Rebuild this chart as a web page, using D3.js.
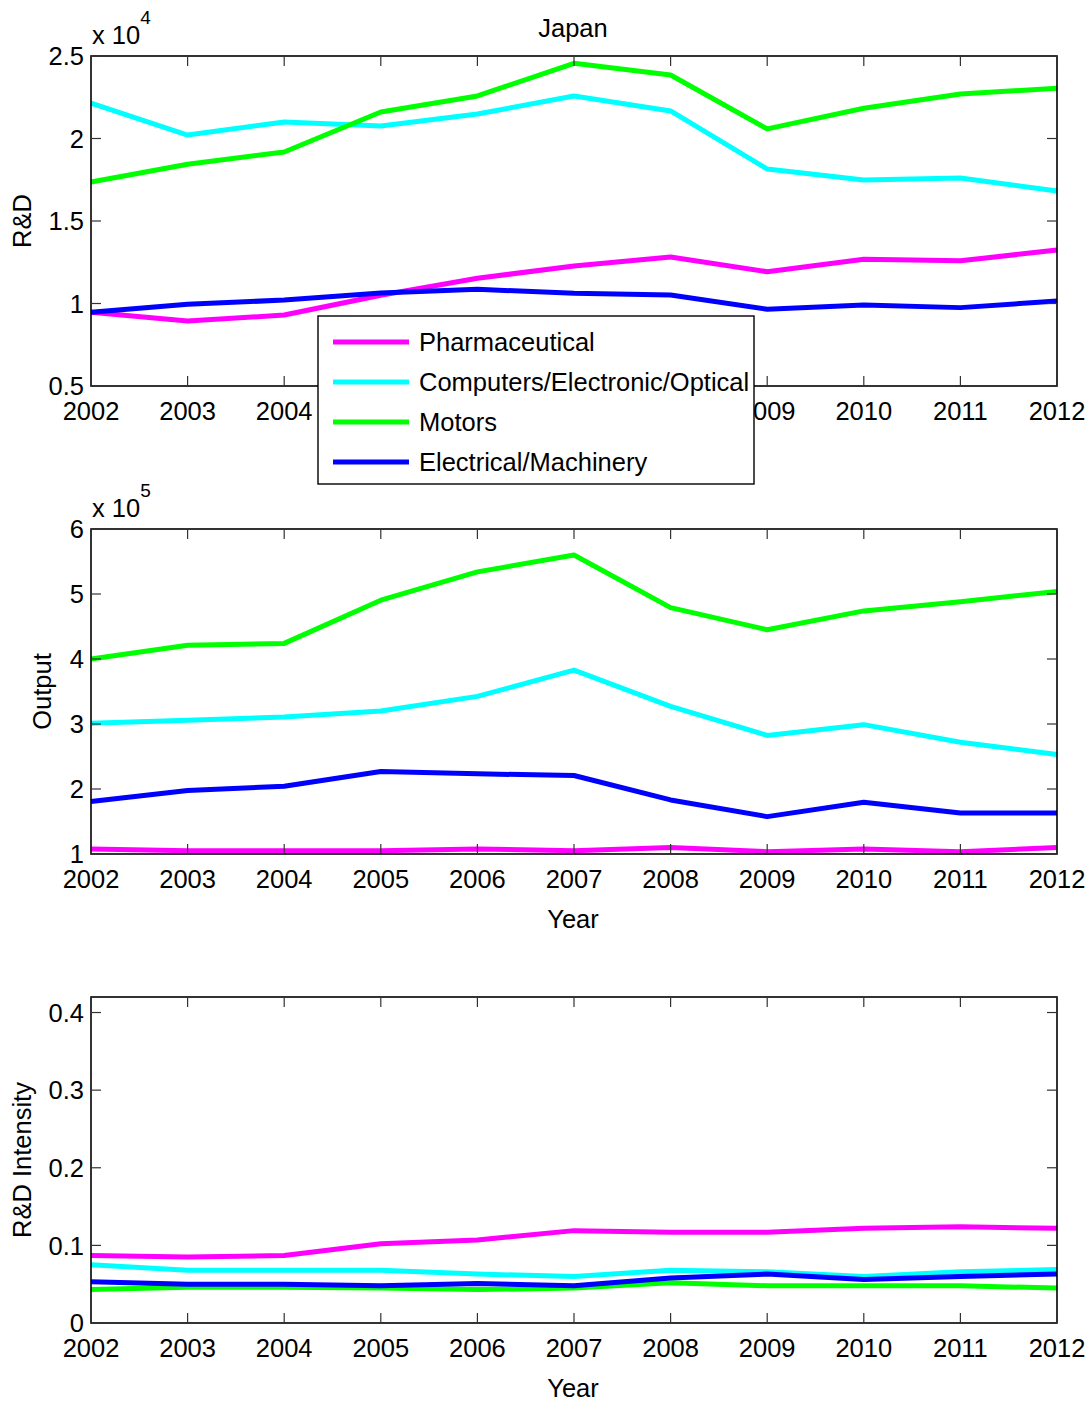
<!DOCTYPE html>
<html><head><meta charset="utf-8">
<script src="https://cdn.jsdelivr.net/npm/d3@7"></script>
<style>
html,body{margin:0;padding:0;background:#fff;}
svg text{font-family:"Liberation Sans",Arial,sans-serif;fill:#000;}
</style></head>
<body>
<svg id="c" width="1092" height="1403"></svg>
<script>
// ---- data ----
const years = [2002,2003,2004,2005,2006,2007,2008,2009,2010,2011,2012];
const seriesNames = ["Pharmaceutical","Computers/Electronic/Optical","Motors","Electrical/Machinery"];
const seriesColors = ["#ff00ff","#00ffff","#00ff00","#0000ff"];

// R&D (raw units)
const rdPharma    = [9470, 8940, 9300, 10500, 11530, 12270, 12820, 11930, 12680, 12590, 13240];
const rdComputers = [22150,20210,21000,20760,21480,22580,21670,18150,17480,17600,16820];
const rdMotors    = [17360,18440,19180,21610,22580,24560,23850,20580,21830,22700,23040];
const rdElectrical= [9470, 9950, 10210,10640,10860,10620,10520,9650, 9910, 9750, 10150];

// Output (raw units)
const outPharma    = [107700,105000,105000,105000,107700,105000,110000,103600,107700,103600,110000];
const outComputers = [301000,305600,310700,320000,342500,383000,327000,282400,299000,272000,253000];
const outMotors    = [400000,421000,424000,490500,534000,560000,479000,445000,474000,488000,504000];
const outElectrical= [180700,197600,204300,226900,223300,220800,183200,157500,179600,163200,163200];

// R&D intensity
const intPharma    = [0.087,0.085,0.087,0.102,0.107,0.119,0.117,0.117,0.122,0.124,0.122];
const intComputers = [0.075,0.068,0.068,0.068,0.063,0.060,0.068,0.066,0.060,0.066,0.069];
const intMotors    = [0.043,0.046,0.046,0.045,0.043,0.045,0.052,0.048,0.048,0.048,0.045];
const intElectrical= [0.053,0.050,0.050,0.048,0.051,0.048,0.058,0.063,0.056,0.060,0.063];

const rdTicks = [5000,10000,15000,20000,25000];
const outTicks = [100000,200000,300000,400000,500000,600000];
const intTicks = [0,0.1,0.2,0.3,0.4];

const panels = [
  {top:56, bottom:386, domain:[5000,25000], ticks:rdTicks, fmt:d=>String(d/1e4), exp:"4",
   ylabel:"R&D", ylabelX:22, xlabel:null, data:[rdPharma,rdComputers,rdMotors,rdElectrical]},
  {top:529, bottom:854, domain:[100000,600000], ticks:outTicks, fmt:d=>String(d/1e5), exp:"5",
   ylabel:"Output", ylabelX:42, xlabel:"Year", data:[outPharma,outComputers,outMotors,outElectrical]},
  {top:997, bottom:1323, domain:[0,0.42], ticks:intTicks, fmt:d=>String(d), exp:null,
   ylabel:"R&D Intensity", ylabelX:22, xlabel:"Year", data:[intPharma,intComputers,intMotors,intElectrical]}
];

const svg = d3.select("#c");
const left = 91, right = 1057;
const x = d3.scaleLinear().domain([2002,2012]).range([left,right]);
const FS = 25.5;
const tickLen = 10;
const tickColor = "#333";

panels.forEach((p,pi)=>{
  const y = d3.scaleLinear().domain(p.domain).range([p.bottom,p.top]);
  const g = svg.append("g");
  const line = d3.line().x((d,i)=>x(years[i])).y(d=>y(d));
  p.data.forEach((arr,si)=>{
    g.append("path").attr("d",line(arr)).attr("fill","none")
      .attr("stroke",seriesColors[si]).attr("stroke-width",5).attr("stroke-linejoin","round");
  });
  g.append("rect").attr("x",left).attr("y",p.top).attr("width",right-left).attr("height",p.bottom-p.top)
    .attr("fill","none").attr("stroke","#000").attr("stroke-width",1.6);
  years.forEach(yr=>{
    const xx = x(yr);
    g.append("line").attr("x1",xx).attr("x2",xx).attr("y1",p.bottom).attr("y2",p.bottom-tickLen).attr("stroke",tickColor).attr("stroke-width",1.2);
    g.append("line").attr("x1",xx).attr("x2",xx).attr("y1",p.top).attr("y2",p.top+tickLen).attr("stroke",tickColor).attr("stroke-width",1.2);
    g.append("text").attr("x",xx).attr("y",p.bottom+34).attr("text-anchor","middle").attr("font-size",FS).text(yr);
  });
  p.ticks.forEach(t=>{
    const yy = y(t);
    g.append("line").attr("x1",left).attr("x2",left+tickLen).attr("y1",yy).attr("y2",yy).attr("stroke",tickColor).attr("stroke-width",1.2);
    g.append("line").attr("x1",right).attr("x2",right-tickLen).attr("y1",yy).attr("y2",yy).attr("stroke",tickColor).attr("stroke-width",1.2);
    g.append("text").attr("x",left-7).attr("y",yy).attr("dy","0.36em").attr("text-anchor","end").attr("font-size",FS).text(p.fmt(t));
  });
  if(p.exp){
    const t = g.append("text").attr("x",92).attr("y",p.top-12).attr("font-size",FS);
    t.append("tspan").text("x 10");
    t.append("tspan").attr("dy",-20).attr("font-size",19).text(p.exp);
  }
  g.append("text").attr("transform",`translate(${p.ylabelX+9},${(p.top+p.bottom)/2}) rotate(-90)`)
    .attr("text-anchor","middle").attr("font-size",FS).text(p.ylabel);
  if(p.xlabel){
    g.append("text").attr("x",573).attr("y",p.bottom+74).attr("text-anchor","middle").attr("font-size",FS).text(p.xlabel);
  }
  if(pi===0){
    g.append("text").attr("x",573).attr("y",37).attr("text-anchor","middle").attr("font-size",FS).text("Japan");
  }
});

// legend
const lg = svg.append("g");
lg.append("rect").attr("x",318).attr("y",316).attr("width",436).attr("height",168)
  .attr("fill","#fff").attr("stroke","#000").attr("stroke-width",1.4);
seriesNames.forEach((n,i)=>{
  const yy = 342 + i*40;
  lg.append("line").attr("x1",333).attr("x2",409).attr("y1",yy).attr("y2",yy)
    .attr("stroke",seriesColors[i]).attr("stroke-width",5);
  lg.append("text").attr("x",419).attr("y",yy).attr("dy","0.36em").attr("font-size",FS).text(n);
});
</script>
</body></html>
